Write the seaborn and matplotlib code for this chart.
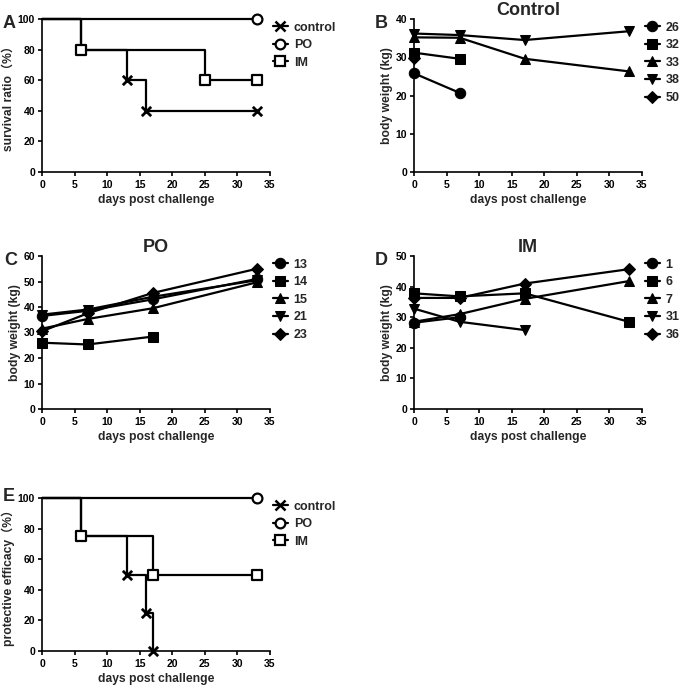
import numpy as np
import pandas as pd
import matplotlib
matplotlib.use('Agg')
import matplotlib.pyplot as plt
from matplotlib.lines import Line2D
import seaborn as sns

# survival (panel A) and protective efficacy (panel E): step curves
SURV_GROUPS = ['control', 'PO', 'IM']
SURV_A_DAYS = {'control': [0, 6, 13, 16, 33], 'PO': [0, 33], 'IM': [0, 6, 25, 33]}
SURV_A_VALS = {'control': [100, 80, 60, 40, 40], 'PO': [100, 100], 'IM': [100, 80, 60, 60]}
SURV_E_DAYS = {'control': [0, 6, 13, 16, 17], 'PO': [0, 33], 'IM': [0, 6, 17, 33]}
SURV_E_VALS = {'control': [100, 75, 50, 25, 0], 'PO': [100, 100], 'IM': [100, 75, 50, 50]}

# body weight per animal (panels B, C, D)
DAYS = [0, 7, 17, 33]
CTRL_IDS = ['26', '32', '33', '38', '50']
CTRL_WEIGHTS = [[25.8, 20.7], [31.2, 29.6], [35.2, 35.1, 29.6, 26.3],
                [36.2, 35.8, 34.5, 36.8], [29.8]]
PO_IDS = ['13', '14', '15', '21', '23']
PO_WEIGHTS = [[36.5, 38.5, 43.0, 51.0], [26.0, 25.3, 28.4], [31.5, 35.3, 39.5, 49.7],
              [37.0, 39.0, 44.0, 50.5], [30.5, 37.5, 45.5, 55.0]]
IM_IDS = ['1', '6', '7', '31', '36']
IM_WEIGHTS = [[28.2, 30.0], [37.8, 36.8, 37.8, 28.5], [28.5, 31.0, 36.0, 41.8],
              [32.8, 28.5, 25.8], [36.3, 36.3, 41.0, 45.7]]

SURV_MARKERS = {'control': 'x', 'PO': 'o', 'IM': 's'}
WEIGHT_MARKERS = ['o', 's', '^', 'v', 'D']

sns.set_style('ticks')
plt.rcParams['font.family'] = ['Liberation Sans', 'Noto Sans CJK SC', 'DejaVu Sans']
plt.rcParams.update({
    'font.weight': 'bold',
    'axes.labelweight': 'bold',
    'axes.titleweight': 'bold',
    'axes.linewidth': 1.2,
    'xtick.major.width': 1.2,
    'ytick.major.width': 1.2,
    'xtick.major.size': 3,
    'ytick.major.size': 3,
    'xtick.major.pad': 2.5,
    'ytick.major.pad': 2,
    'xtick.labelsize': 7.5,
    'ytick.labelsize': 7.5,
    'axes.labelsize': 8.7,
    'xtick.color': 'black',
    'ytick.color': 'black',
    'axes.edgecolor': 'black',
})

LEG_KW = dict(loc='upper left', bbox_to_anchor=(1.0, 1.0), frameon=False, fontsize=9,
              handlelength=1.2, handletextpad=0.5, labelspacing=0.45, borderaxespad=0,
              borderpad=0.2)


def style_axes(ax, ymax, ystep):
    ax.set_xlim(0, 35)
    ax.set_ylim(0, ymax)
    ax.set_xticks(np.arange(0, 36, 5))
    ax.set_yticks(np.arange(0, ymax + 1, ystep))
    ax.set_xlabel('days post challenge', labelpad=3)
    sns.despine(ax=ax)


def plot_survival(ax, days, vals, ylabel):
    handles = []
    for g in SURV_GROUPS:
        df = pd.DataFrame({'day': days[g], 'val': vals[g]})
        sns.lineplot(data=df, x='day', y='val', ax=ax, color='black', lw=1.6,
                     drawstyle='steps-post', estimator=None, clip_on=False)
        mk = df.iloc[1:]
        m = SURV_MARKERS[g]
        if m == 'x':
            sns.scatterplot(data=mk, x='day', y='val', ax=ax, marker='x', color='black',
                            s=45, linewidth=2, clip_on=False, zorder=5)
        else:
            sns.scatterplot(data=mk, x='day', y='val', ax=ax, marker=m, facecolor='white',
                            edgecolor='black', s=50, linewidth=1.6, clip_on=False, zorder=5)
        handles.append(Line2D([], [], color='black', lw=1.6, marker=m, ms=7,
                              mfc='white', mec='black', mew=1.8 if m == 'x' else 1.6))
    style_axes(ax, 100, 20)
    ax.set_ylabel(ylabel, labelpad=2)
    ax.legend(handles, SURV_GROUPS, **LEG_KW)


def plot_weights(ax, ids, weights, ymax, title):
    for i, (aid, w) in enumerate(zip(ids, weights)):
        df = pd.DataFrame({'day': DAYS[:len(w)], 'weight': w})
        ms = 6.5 if WEIGHT_MARKERS[i] == 'D' else 7.5
        sns.lineplot(data=df, x='day', y='weight', ax=ax, color='black', lw=1.6,
                     marker=WEIGHT_MARKERS[i], ms=ms, mec='black', mfc='black',
                     estimator=None, clip_on=False, label=aid)
    style_axes(ax, ymax, 10)
    ax.set_ylabel('body weight (kg)', labelpad=2)
    ax.set_title(title, fontsize=13, pad=3)
    ax.legend(**LEG_KW)


fig = plt.figure(figsize=(6.85, 6.87), dpi=100)
L1, L2, W, H = 42 / 685, 414 / 685, 228 / 685, 153 / 687
axA = fig.add_axes([L1, 1 - 172 / 687, W, H])
axB = fig.add_axes([L2, 1 - 172 / 687, W, H])
axC = fig.add_axes([L1, 1 - 409 / 687, W, H])
axD = fig.add_axes([L2, 1 - 409 / 687, W, H])
axE = fig.add_axes([L1, 1 - 651 / 687, W, H])

plot_survival(axA, SURV_A_DAYS, SURV_A_VALS, 'survival ratio（%）')
plot_weights(axB, CTRL_IDS, CTRL_WEIGHTS, 40, 'Control')
plot_weights(axC, PO_IDS, PO_WEIGHTS, 60, 'PO')
plot_weights(axD, IM_IDS, IM_WEIGHTS, 50, 'IM')
plot_survival(axE, SURV_E_DAYS, SURV_E_VALS, 'protective efficacy（%）')

for letter, x, y in [('A', 3, 28), ('B', 375, 28), ('C', 4, 265), ('D', 375, 265), ('E', 3, 501)]:
    fig.text(x / 685, 1 - y / 687, letter, fontsize=13, fontweight='bold', va='baseline')

fig.savefig('out.png', dpi=100)
